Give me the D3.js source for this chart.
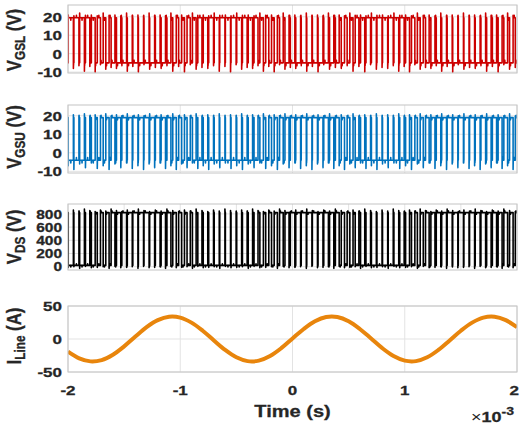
<!DOCTYPE html>
<html>
<head>
<meta charset="utf-8">
<script src="https://cdn.jsdelivr.net/npm/d3@7/dist/d3.min.js"></script>
<style>
  body { margin: 0; background: #fff; }
  text { font-family: Arial, "Liberation Sans", sans-serif; font-weight: bold; fill: #262626;
         stroke: #262626; stroke-width: 0.35px; }
</style>
</head>
<body>
<svg id="chart" width="520" height="424"></svg>
<script>
"use strict";

// time axis, in ms (labelled x10^-3 s)
const timeTicks = [-2, -1, 0, 1, 2];
const timeTicksFine = [-2, -1.5, -1, -0.5, 0, 0.5, 1, 1.5, 2];
const switchPeriod = 0.05;

// duty of the lower gate (share of each switching period spent high)
const dutyGSL = [
  .92, .90, .85, .78, .68, .57,
  .46, .36, .27, .19, .13, .10, .08, .08, .10, .13, .18, .25, .33, .42, .50,
  .58, .66, .74, .81, .86, .90, .92, .92, .91, .88, .84, .78, .71, .63, .55, .47,
  .39, .31, .23, .16, .11, .08, .08, .10, .14, .20, .28, .37, .47,
  .57, .66, .75, .82, .88, .91, .92, .90, .86, .79, .70, .60, .50, .40,
  .31, .23, .16, .11, .09, .08, .08, .09, .11, .14, .18, .22, .27, .31, .35, .39
];

// levels [on, off], ripple inside a level, and edge spikes
const levelsGSL = [19.5, -5];
const rippleGSL = [18.2, 20.8, -6.5, -3.6];
const spikesGSLup = [21, 20.5, 22, 20.8];
const spikesGSLdown = [-8, -6.5, -9.5, -7, -10, -6, -8.5, -7.5];
const levelsGSU = [19, -4];
const rippleGSU = [-5.5, -2.6, 17.8, 20.2];
const spikesGSUup = [20.5, 20, 21, 19.8];
const spikesGSUdown = [-7, -9, -6, -8, -5.5, -8.5];
const levelsDS = [820, 20];
const rippleDS = [-5, 45, 795, 845];
const spikesDSup = [860, 845, 875, 850, 835];
const spikesDSdown = [-10, 0, -25, 5, -15];

// line current, sampled every 0.1 ms from -2 to 2 ms
const currentTimes = d3.range(41).map(i => -2 + i * 0.1);
const currentValues = [
  -19.1, -29.3, -33.9, -31.9, -23.8, -11.1, 3.7, 17.9, 28.5, 33.7,
  32.4, 24.8, 12.5, -2.2, -16.6, -27.7, -33.5, -32.8, -25.8, -13.9,
  0.8, 15.2, 26.8, 33.2, 33.2, 26.8, 15.2, 0.8, -13.9, -25.8,
  -32.8, -33.5, -27.7, -16.5, -2.2, 12.5, 24.8, 32.4, 33.7, 28.5, 17.9
];

const yTicksGate = [-10, 0, 10, 20];
const yTicksDS = [0, 200, 400, 600, 800];
const yTicksCurrent = [-50, 0, 50];

const svg = d3.select('#chart');
const x = d3.scaleLinear().domain([-2, 2]).range([68, 517]);
const squash = 0.8;

// inner level sits in the middle of each period, outer level around the edges
function switching(duty, inner, outer, ripple, spikeIn, spikeOut)
{
  let pts = [];
  let eps = 0.0012;
  duty.forEach((d, k) => {
    let t0 = -2 + k * switchPeriod;
    let a = t0 + (1 - d) * switchPeriod / 2;
    let b = t0 + (1 + d) * switchPeriod / 2;
    let m = (a + b) / 2;
    pts.push([t0, outer], [a, outer], [a, spikeIn[k % spikeIn.length]], [a + eps, inner],
      [m - eps, inner], [m, ripple[k % 2]], [m + eps, inner],
      [b, inner], [b, spikeOut[k % spikeOut.length]], [b + eps, outer],
      [b + (t0 + switchPeriod - b) * 0.5, ripple[2 + k % 2]], [b + (t0 + switchPeriod - b) * 0.5 + eps, outer]);
  });
  pts.push([2, outer]);
  return pts;
}

function label(g, xPos, yPos, parts, rotate, size)
{
  let t = g.append('text')
    .attr('transform', `translate(${xPos},${yPos}) scale(1,${squash})` + (rotate ? ' rotate(-90)' : ''))
    .attr('text-anchor', 'middle')
    .style('font-size', size + 'px');
  t.append('tspan').text(parts[0]);
  t.append('tspan').text(parts[1]).attr('baseline-shift', '-28%').style('font-size', (size * 0.7) + 'px');
  t.append('tspan').text(parts[2]);
}

const panels = [
  { top: 5, bottom: 73, domain: [-10.5, 26.4], ticks: yTicksGate, grid: timeTicks, color: '#cc0000',
    name: ['V', 'GSL', ' (V)'], labelY: 40, tickSize: 17,
    points: switching(dutyGSL, levelsGSL[0], levelsGSL[1], rippleGSL, spikesGSLup, spikesGSLdown) },
  { top: 105, bottom: 173, domain: [-10.9, 25.8], ticks: yTicksGate, grid: timeTicks, color: '#0072bd',
    name: ['V', 'GSU', ' (V)'], labelY: 137, tickSize: 17,
    points: switching(dutyGSL, levelsGSU[1], levelsGSU[0], rippleGSU, spikesGSUdown, spikesGSUup) },
  { top: 204, bottom: 270, domain: [-50, 950], ticks: yTicksDS, grid: timeTicksFine, color: '#000000',
    name: ['V', 'DS', ' (V)'], labelY: 237, tickSize: 15.5,
    points: switching(dutyGSL, levelsDS[1], levelsDS[0], rippleDS, spikesDSdown, spikesDSup) },
  { top: 306, bottom: 372, domain: [-50, 50], ticks: yTicksCurrent, grid: timeTicks, color: '#e8850c',
    name: ['I', 'Line', ' (A)'], labelY: 336, tickSize: 17,
    points: currentTimes.map((t, i) => [t, currentValues[i]]), smooth: true }
];

panels.forEach((p, i) => {
  let y = d3.scaleLinear().domain(p.domain).range([p.bottom, p.top]);
  let g = svg.append('g');

  g.selectAll('.vgrid').data(p.grid).enter().append('line')
    .attr('x1', d => x(d)).attr('x2', d => x(d))
    .attr('y1', p.top).attr('y2', p.bottom)
    .attr('stroke', '#e3e3e3').attr('stroke-width', 1);
  g.selectAll('.hgrid').data(p.ticks).enter().append('line')
    .attr('x1', x(-2)).attr('x2', x(2))
    .attr('y1', d => y(d)).attr('y2', d => y(d))
    .attr('stroke', '#e3e3e3').attr('stroke-width', 1);

  g.append('clipPath').attr('id', 'clip' + i)
    .append('rect').attr('x', x(-2)).attr('y', p.top)
    .attr('width', x(2) - x(-2)).attr('height', p.bottom - p.top);

  let line = d3.line().x(d => x(d[0])).y(d => y(d[1]));
  if (p.smooth) line.curve(d3.curveCatmullRom);
  g.append('path')
    .datum(p.points)
    .attr('clip-path', `url(#clip${i})`)
    .attr('d', line)
    .attr('fill', 'none')
    .attr('stroke', p.color)
    .attr('stroke-width', p.smooth ? 4 : 1.6)
    .attr('stroke-linejoin', 'round');

  g.append('rect')
    .attr('x', x(-2)).attr('y', p.top)
    .attr('width', x(2) - x(-2)).attr('height', p.bottom - p.top)
    .attr('fill', 'none').attr('stroke', '#c4c4c4');

  g.selectAll('.ytick').data(p.ticks).enter().append('text')
    .attr('transform', d => `translate(62,${y(d) + p.tickSize * 0.3}) scale(1,${squash})`)
    .attr('text-anchor', 'end')
    .style('font-size', p.tickSize + 'px')
    .text(d => d);

  label(g, 21, p.labelY, p.name, true, 21);

  if (i === panels.length - 1)
  {
    // the last label would cross the page edge, so it is pinned to it
    g.selectAll('.xtick').data(timeTicks).enter().append('text')
      .attr('transform', d => `translate(${d === 2 ? 519 : x(d)},395) scale(1,${squash})`)
      .attr('text-anchor', d => d === 2 ? 'end' : 'middle')
      .style('font-size', '17px')
      .text(d => d);
    g.append('text')
      .attr('transform', `translate(${x(0)},417) scale(1,${squash})`)
      .attr('text-anchor', 'middle')
      .style('font-size', '20px')
      .text('Time (s)');
    let e = g.append('text')
      .attr('transform', `translate(514,422) scale(1,${squash})`)
      .attr('text-anchor', 'end')
      .style('font-size', '18px');
    e.append('tspan').text('\u00d7').style('font-weight', 'normal').style('stroke-width', 0);
    e.append('tspan').text('10');
    e.append('tspan').text('-3').attr('dy', -9).style('font-size', '14px');
  }
});
</script>
</body>
</html>
